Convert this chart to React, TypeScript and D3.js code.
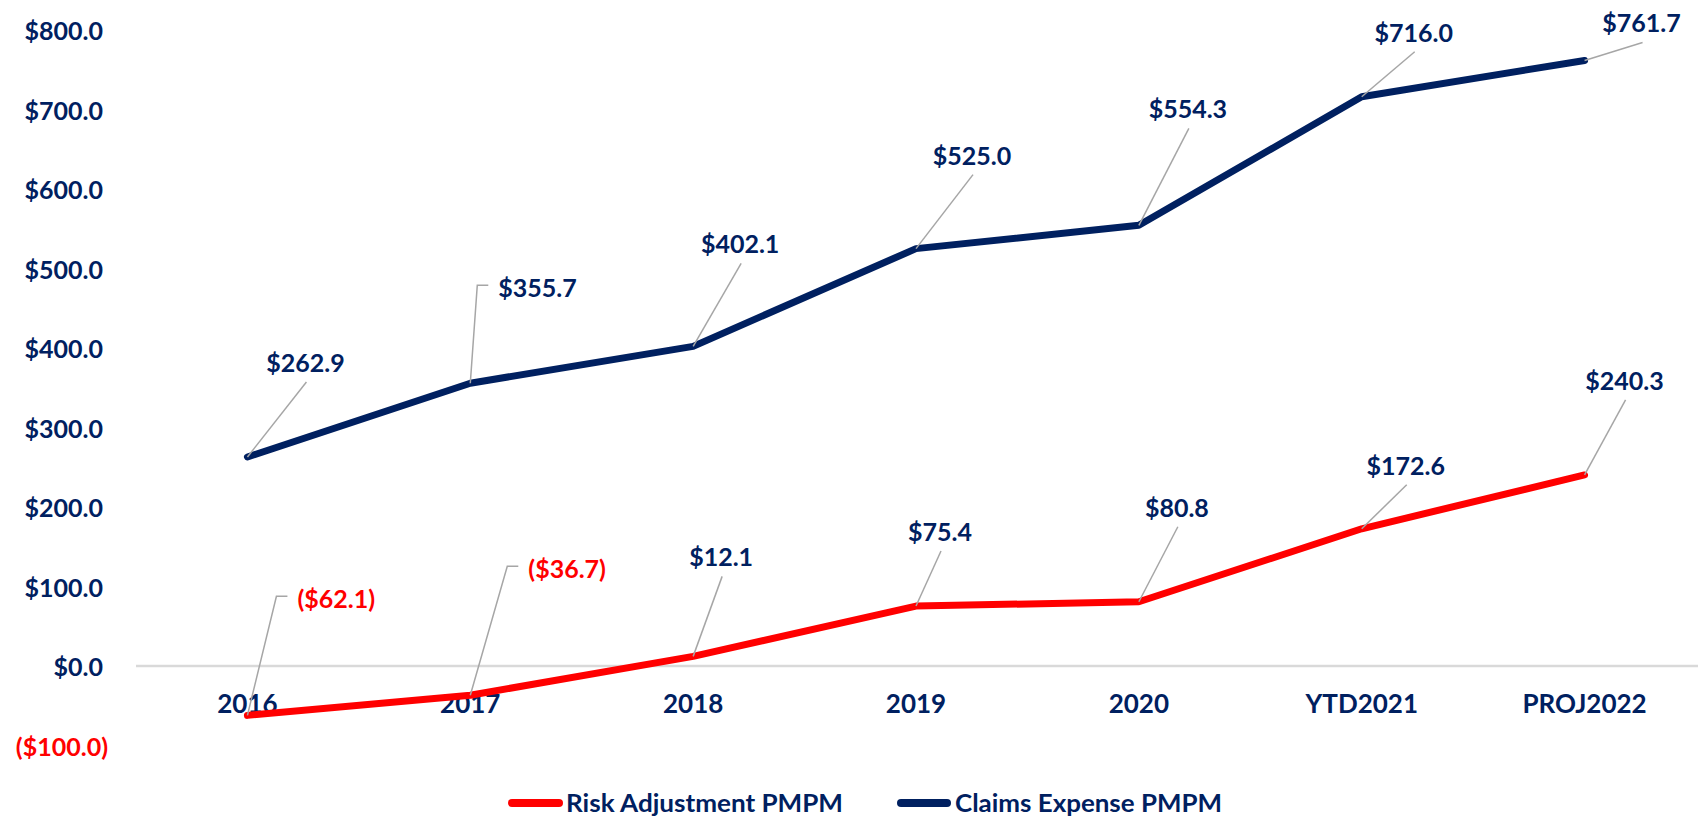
import React from "react";
import * as d3 from "d3";

// ---- data ----
const categories = ["2016", "2017", "2018", "2019", "2020", "YTD2021", "PROJ2022"];
const riskAdjustment = [-62.1, -36.7, 12.1, 75.4, 80.8, 172.6, 240.3];
const claimsExpense = [262.9, 355.7, 402.1, 525.0, 554.3, 716.0, 761.7];
const yTicks = [-100, 0, 100, 200, 300, 400, 500, 600, 700, 800];
const seriesNames = ["Risk Adjustment PMPM", "Claims Expense PMPM"];

// ---- layout (label offsets relative to their point: dx, dy, leader type) ----
type Off = [number, number, "c" | "h"];
const claimsLabelOffsets: Off[] = [
  [58, -95, "c"], [28, -96, "h"], [47, -103, "c"], [56, -94, "c"],
  [49, -117, "c"], [52, -65, "c"], [57, -38, "c"],
];
const riskLabelOffsets: Off[] = [
  [50, -117, "h"], [58, -127, "h"], [28, -100, "c"], [24, -75, "c"],
  [38, -95, "c"], [44, -64, "c"], [40, -95, "c"],
];

const W = 1700;
const H = 817;
const NAVY = "#002060";
const RED = "#FF0000";
const GRID = "#D9D9D9";
const LEADER = "#A6A6A6";
const FONT = "Lato, 'Open Sans', sans-serif";

const fmt = d3.format("$,.1f");
const money = (v: number) => (v < 0 ? `(${fmt(-v)})` : fmt(v));

export default function App() {
  const x = d3.scaleBand<string>().domain(categories).range([136, 1696]).padding(0);
  const y = d3.scaleLinear().domain([-100, 800]).range([745.5, 30]);
  const cx = (c: string) => (x(c) as number) + x.bandwidth() / 2;

  const line = d3
    .line<number>()
    .x((_, i) => cx(categories[i]))
    .y((v) => y(v));

  const renderLabels = (vals: number[], offs: Off[], key: string) =>
    vals.map((v, i) => {
      const px = cx(categories[i]);
      const py = y(v);
      const [dx, dy, type] = offs[i];
      const lx = px + dx;
      const ly = py + dy;
      const color = v < 0 ? RED : NAVY;
      if (type === "h") {
        const path = `M${px},${py}L${lx - 21},${ly - 2}L${lx - 10},${ly - 2}`;
        return (
          <g key={key + i}>
            <path d={path} fill="none" stroke={LEADER} strokeWidth={1.5} />
            <text x={lx} y={ly} textAnchor="start" dominantBaseline="central"
              fill={color} fontSize={25} fontWeight={700} fontFamily={FONT}>
              {money(v)}
            </text>
          </g>
        );
      }
      return (
        <g key={key + i}>
          <line x1={px} y1={py} x2={lx + 1} y2={ly + 20} stroke={LEADER} strokeWidth={1.5} />
          <text x={lx} y={ly} textAnchor="middle" dominantBaseline="central"
            fill={color} fontSize={25} fontWeight={700} fontFamily={FONT}>
            {money(v)}
          </text>
        </g>
      );
    });

  return (
    <svg width={W} height={H} style={{ position: "absolute", left: 0, top: 0, display: "block", background: "#fff" }}>
      {/* y tick labels */}
      {yTicks.map((t) => (
        <text key={t} x={t < 0 ? 108 : 103} y={y(t)} textAnchor="end" dominantBaseline="central"
          fill={t < 0 ? RED : NAVY} fontSize={25} fontWeight={700} fontFamily={FONT}>
          {money(t)}
        </text>
      ))}
      {/* zero line */}
      <line x1={136} x2={1698} y1={y(0)} y2={y(0)} stroke={GRID} strokeWidth={2.5} />
      {/* category labels */}
      {categories.map((c) => (
        <text key={c} x={cx(c)} y={703} textAnchor="middle" dominantBaseline="central"
          fill={NAVY} fontSize={26} fontWeight={700} fontFamily={FONT}>
          {c}
        </text>
      ))}
      {/* series lines */}
      <path d={line(claimsExpense) || ""} fill="none" stroke={NAVY} strokeWidth={7}
        strokeLinecap="round" strokeLinejoin="round" />
      <path d={line(riskAdjustment) || ""} fill="none" stroke={RED} strokeWidth={7}
        strokeLinecap="round" strokeLinejoin="round" />
      {/* data labels */}
      {renderLabels(claimsExpense, claimsLabelOffsets, "c")}
      {renderLabels(riskAdjustment, riskLabelOffsets, "r")}
      {/* legend */}
      <line x1={512} x2={559} y1={803} y2={803} stroke={RED} strokeWidth={8} strokeLinecap="round" />
      <text x={566} y={802} dominantBaseline="central" fill={NAVY} fontSize={25} fontWeight={700}
        fontFamily={FONT} textLength={277} lengthAdjust="spacingAndGlyphs">
        {seriesNames[0]}
      </text>
      <line x1={901} x2={947} y1={803} y2={803} stroke={NAVY} strokeWidth={8} strokeLinecap="round" />
      <text x={955} y={802} dominantBaseline="central" fill={NAVY} fontSize={25} fontWeight={700}
        fontFamily={FONT} textLength={267} lengthAdjust="spacingAndGlyphs">
        {seriesNames[1]}
      </text>
    </svg>
  );
}
